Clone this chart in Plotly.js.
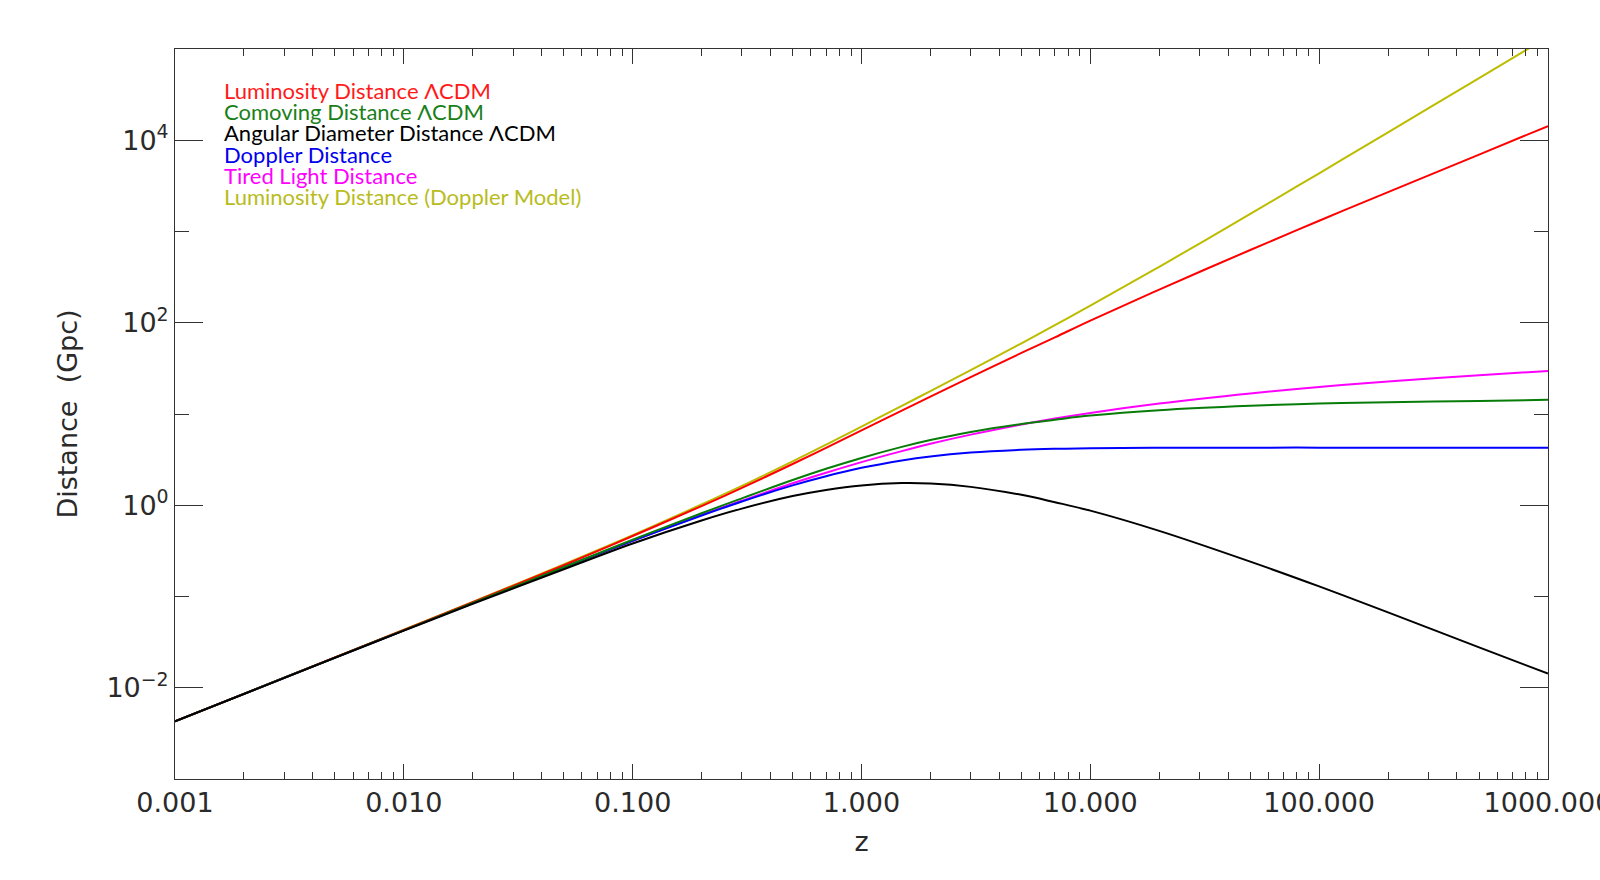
<!DOCTYPE html>
<html>
<head>
<meta charset="utf-8">
<script src="https://cdn.plot.ly/plotly-3.0.1.min.js"></script>
<style>
  html, body { margin: 0; padding: 0; background: #fff; }
  #plot { width: 1600px; height: 880px; }
</style>
</head>
<body>
<div id="plot"></div>
<script>
// redshift samples
var z = [0.001, 0.002, 0.005, 0.01, 0.02, 0.05, 0.1, 0.2, 0.3, 0.5, 0.7, 1, 1.5, 2, 3, 5, 7, 10, 20, 50, 100, 200, 500, 1000]

// distances in Gpc
var lumLCDM  = [0.00429, 0.00858, 0.0215, 0.0431, 0.0866, 0.220, 0.460, 0.980, 1.55, 2.83, 4.26, 6.61, 10.9, 15.5, 25.4, 46.7, 69.1, 105.6, 231, 627, 1313, 2703, 6964, 14300]
var comLCDM  = [0.00428, 0.00856, 0.0214, 0.0426, 0.0849, 0.209, 0.419, 0.817, 1.19, 1.89, 2.51, 3.30, 4.36, 5.18, 6.36, 7.78, 8.65, 9.6, 11.0, 12.3, 13.0, 13.45, 13.9, 14.3]
var angLCDM  = [0.00428, 0.00854, 0.0213, 0.0422, 0.0832, 0.199, 0.381, 0.681, 0.919, 1.26, 1.47, 1.65, 1.75, 1.73, 1.59, 1.30, 1.08, 0.873, 0.524, 0.241, 0.129, 0.0669, 0.0277, 0.0143]
var doppler  = [0.00428, 0.00856, 0.0214, 0.0426, 0.0848, 0.209, 0.407, 0.772, 1.10, 1.65, 2.08, 2.57, 3.10, 3.43, 3.78, 4.05, 4.15, 4.21, 4.26, 4.28, 4.28, 4.28, 4.28, 4.28]
var tired    = [0.00428, 0.00856, 0.0214, 0.0426, 0.0848, 0.209, 0.408, 0.781, 1.12, 1.74, 2.27, 2.97, 3.92, 4.71, 5.94, 7.67, 8.91, 10.27, 13.0, 16.8, 19.8, 22.7, 26.6, 29.6]
var lumDop   = [0.00429, 0.00858, 0.0215, 0.0433, 0.0874, 0.225, 0.470, 1.02, 1.63, 3.03, 4.61, 7.27, 12.3, 17.8, 30.2, 59.5, 93.9, 154, 410, 1559, 4347, 12205, 48030, 135700]

var names  = ['Luminosity Distance \u039BCDM', 'Comoving Distance \u039BCDM', 'Angular Diameter Distance \u039BCDM',
              'Doppler Distance', 'Tired Light Distance', 'Luminosity Distance (Doppler Model)']
var series = [lumLCDM, comLCDM, angLCDM, doppler, tired, lumDop]
var colors = ['#ff0000', '#087c08', '#000000', '#0000ff', '#ff00ff', '#bcbc00']
var textColors = ['#ff1a1a', '#1a801a', '#000000', '#0000ee', '#ff00ff', '#b8bc1c']

// axis ticks
var xMajor = [0.001, 0.01, 0.1, 1, 10, 100, 1000]
var xLabels = ['0.001', '0.010', '0.100', '1.000', '10.000', '100.000', '1000.000']
var yMajor = [0.01, 1, 100, 10000]
var yLabels = ['10<sup>\u22122</sup>', '10<sup>0</sup>', '10<sup>2</sup>', '10<sup>4</sup>']
var yMinor = [0.001, 0.1, 10, 1000, 100000]

var xMinor = []
for (var i = 0; i < xMajor.length - 1; i++) {
    for (var k = 2; k <= 9; k++) xMinor.push(xMajor[i] * k)
}

// draw order: black ends up on top at low z
var order = [5, 4, 3, 0, 1, 2]
var traces = order.map(function(i) {
    return {
        x: z, y: series[i], name: names[i], type: 'scatter', mode: 'lines',
        line: {color: colors[i], width: 2, shape: 'spline', smoothing: 1},
        hoverinfo: 'x+y+name'
    }
})

var annotations = names.map(function(n, i) {
    return {
        text: n, xref: 'paper', yref: 'paper',
        x: 0.0345, y: 0.9433 - i * 0.0291,
        xanchor: 'left', yanchor: 'middle', showarrow: false,
        font: {family: 'Lato, sans-serif', size: 22, color: textColors[i]}
    }
})

var tickFont = {family: 'DejaVu Sans, sans-serif', size: 27, color: '#2a2a2a'}

var layout = {
    width: 1600, height: 880,
    margin: {l: 175, r: 52, t: 49, b: 101},
    paper_bgcolor: '#fff', plot_bgcolor: '#fff',
    showlegend: false,
    xaxis: {
        type: 'log', range: [-3, 3],
        tickmode: 'array', tickvals: xMajor, ticktext: xLabels,
        ticklabeloverflow: 'allow',
        ticks: 'inside', ticklen: 15, tickwidth: 1, tickcolor: '#333',
        minor: {tickmode: 'array', tickvals: xMinor, ticks: 'inside', ticklen: 7, tickwidth: 1, tickcolor: '#333', showgrid: false},
        showgrid: false, zeroline: false,
        showline: true, linecolor: '#333', linewidth: 1, mirror: 'ticks',
        tickfont: tickFont,
        title: {text: 'z', font: tickFont, standoff: 14}
    },
    yaxis: {
        type: 'log', range: [-3, 5],
        tickmode: 'array', tickvals: yMajor, ticktext: yLabels,
        ticks: 'inside', ticklen: 28, tickwidth: 1, tickcolor: '#333',
        minor: {tickmode: 'array', tickvals: yMinor, ticks: 'inside', ticklen: 14, tickwidth: 1, tickcolor: '#333', showgrid: false},
        showgrid: false, zeroline: false,
        showline: true, linecolor: '#333', linewidth: 1, mirror: 'ticks',
        tickfont: tickFont,
        title: {text: 'Distance\u00a0\u00a0(Gpc)', font: tickFont, standoff: 20}
    },
    annotations: annotations
}

Plotly.newPlot('plot', traces, layout, {displayModeBar: false, staticPlot: true})
</script>
</body>
</html>
